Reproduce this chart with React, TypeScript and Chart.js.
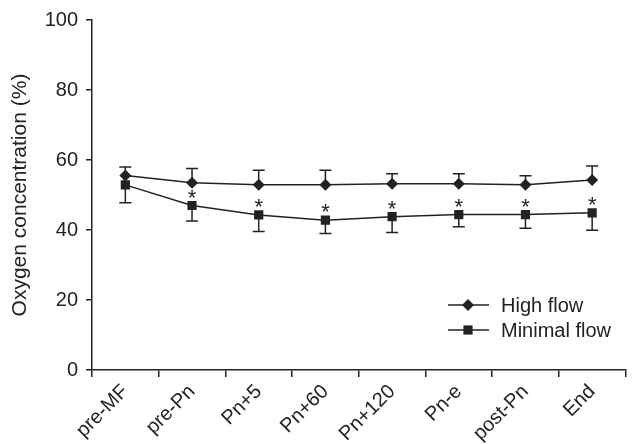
import React, { useEffect, useRef } from "react";
import { Chart, registerables } from "chart.js";

Chart.register(...registerables);

const categories = ["pre-MF", "pre-Pn", "Pn+5", "Pn+60", "Pn+120", "Pn-e", "post-Pn", "End"];
const highFlow = [55.6, 53.5, 52.9, 52.9, 53.2, 53.2, 52.9, 54.3];
const highFlowSd = [2.4, 4.1, 4.2, 4.2, 2.9, 2.9, 2.6, 4.0];
const minimalFlow = [52.9, 47.0, 44.3, 42.8, 43.8, 44.4, 44.4, 44.9];
const minimalFlowSd = [5.1, 4.4, 4.7, 3.8, 4.5, 3.5, 3.9, 5.0];
const significant = [false, true, true, true, true, true, true, true];
const yTicks = [0, 20, 40, 60, 80, 100];

const FONT = "'Liberation Sans', Arial, Helvetica, sans-serif";
const INK = "#222222";

function drawMarker(ctx: CanvasRenderingContext2D, style: string, x: number, y: number, r: number) {
  ctx.beginPath();
  if (style === "rectRot") {
    ctx.moveTo(x, y - r);
    ctx.lineTo(x + r, y);
    ctx.lineTo(x, y + r);
    ctx.lineTo(x - r, y);
    ctx.closePath();
  } else {
    const s = Math.SQRT1_2 * r;
    ctx.rect(x - s, y - s, 2 * s, 2 * s);
  }
  ctx.fill();
}

const errorBarPlugin = {
  id: "errorBars",
  afterDatasetsDraw(chart: any) {
    const ctx = chart.ctx;
    const y = chart.scales.y;
    ctx.save();
    ctx.strokeStyle = INK;
    ctx.lineWidth = 1.5;
    chart.data.datasets.forEach((ds: any, di: number) => {
      const meta = chart.getDatasetMeta(di);
      meta.data.forEach((pt: any, i: number) => {
        const v = ds.data[i];
        const sd = ds.sd[i];
        const end = ds.dir > 0 ? v + sd : v - sd;
        const ye = y.getPixelForValue(end);
        ctx.beginPath();
        ctx.moveTo(pt.x, pt.y);
        ctx.lineTo(pt.x, ye);
        ctx.moveTo(pt.x - 6, ye);
        ctx.lineTo(pt.x + 6, ye);
        ctx.stroke();
      });
    });
    const meta = chart.getDatasetMeta(1);
    ctx.fillStyle = INK;
    ctx.font = `22px ${FONT}`;
    ctx.textAlign = "center";
    ctx.textBaseline = "alphabetic";
    meta.data.forEach((pt: any, i: number) => {
      if (significant[i]) ctx.fillText("*", pt.x, pt.y - 1);
    });
    ctx.restore();
  },
};

const legendPlugin = {
  id: "customLegend",
  afterDraw(chart: any) {
    const ctx = chart.ctx;
    const items = [
      { label: "High flow", style: "rectRot", r: 6 },
      { label: "Minimal flow", style: "rect", r: 6.5 },
    ];
    ctx.save();
    items.forEach((it, i) => {
      const yy = 305 + i * 25;
      ctx.strokeStyle = INK;
      ctx.lineWidth = 1.5;
      ctx.beginPath();
      ctx.moveTo(448, yy);
      ctx.lineTo(489, yy);
      ctx.stroke();
      ctx.fillStyle = INK;
      drawMarker(ctx, it.style, 468, yy, it.r);
      ctx.font = `20px ${FONT}`;
      ctx.textAlign = "left";
      ctx.textBaseline = "middle";
      ctx.fillText(it.label, 501, yy + 1);
    });
    ctx.restore();
  },
};

export default function App() {
  const ref = useRef<HTMLCanvasElement>(null);
  useEffect(() => {
    document.body.style.margin = "0";
    const chart = new Chart(ref.current!, {
      type: "line",
      data: {
        labels: categories,
        datasets: [
          {
            label: "High flow",
            data: highFlow,
            sd: highFlowSd,
            dir: 1,
            borderColor: INK,
            backgroundColor: INK,
            borderWidth: 1.5,
            pointStyle: "rectRot",
            pointRadius: 6,
            pointBorderWidth: 0,
            tension: 0,
          } as any,
          {
            label: "Minimal flow",
            data: minimalFlow,
            sd: minimalFlowSd,
            dir: -1,
            borderColor: INK,
            backgroundColor: INK,
            borderWidth: 1.5,
            pointStyle: "rect",
            pointRadius: 6.5,
            pointBorderWidth: 0,
            tension: 0,
          } as any,
        ],
      },
      options: {
        animation: false,
        responsive: false,
        layout: { padding: { top: 18, right: 1, left: 0, bottom: 0 } },
        plugins: { legend: { display: false }, tooltip: { enabled: false } },
        scales: {
          x: {
            offset: true,
            grid: {
              offset: true,
              drawOnChartArea: false,
              drawTicks: true,
              tickLength: 7,
              color: INK,
              lineWidth: 1.5,
            },
            border: { color: INK, width: 1.5 },
            ticks: {
              color: INK,
              font: { family: FONT, size: 20 },
              minRotation: 45,
              maxRotation: 45,
              padding: 3,
              autoSkip: false,
            },
            afterFit(scale: any) {
              scale.height = 74;
            },
          },
          y: {
            min: 0,
            max: 100,
            afterBuildTicks(scale: any) {
              scale.ticks = yTicks.map((v) => ({ value: v }));
            },
            grid: {
              drawOnChartArea: false,
              drawTicks: true,
              tickLength: 6,
              color: INK,
              lineWidth: 1.5,
            },
            border: { color: INK, width: 1.5 },
            ticks: {
              color: INK,
              font: { family: FONT, size: 20 },
              padding: 8,
            },
            title: {
              display: true,
              text: "Oxygen concentration (%)",
              color: INK,
              font: { family: FONT, size: 21 },
              padding: { top: 8, bottom: 0 },
            },
            afterFit(scale: any) {
              scale.width = 92;
            },
          },
        },
      },
      plugins: [errorBarPlugin, legendPlugin],
    });
    return () => chart.destroy();
  }, []);
  return (
    <div style={{ width: 632, height: 444 }}>
      <canvas ref={ref} width={632} height={444} style={{ display: "block" }} />
    </div>
  );
}
